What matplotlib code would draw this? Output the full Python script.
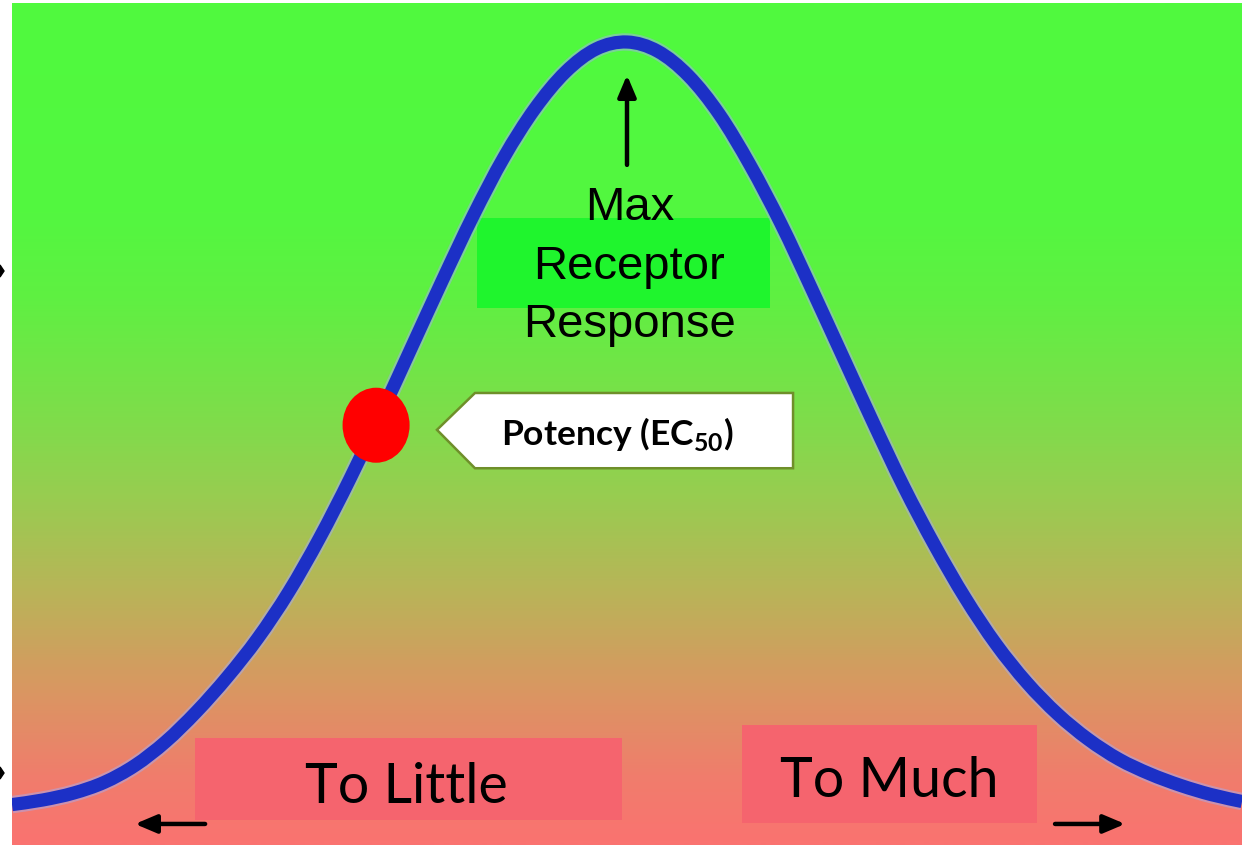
import matplotlib

matplotlib.use("Agg")

import matplotlib.pyplot as plt
import numpy as np
from matplotlib.colors import LinearSegmentedColormap
from matplotlib.patches import Ellipse, PathPatch, Polygon, Rectangle
from matplotlib.path import Path

plt.rcParams["mathtext.fontset"] = "custom"
plt.rcParams["mathtext.rm"] = "Lato"
plt.rcParams["mathtext.bf"] = "Lato:bold"

# dose axis (0 = far left, 100 = far right) and relative receptor response (%)
DOSE = [
    0.0, 2.5, 5.0, 7.5, 10.0, 12.5, 15.0, 17.5, 20.0, 22.5,
    25.0, 27.5, 30.0, 32.5, 35.0, 37.5, 40.0, 42.5, 45.0, 47.5,
    50.0, 52.5, 55.0, 57.5, 60.0, 62.5, 65.0, 67.5, 70.0, 72.5,
    75.0, 77.5, 80.0, 82.5, 85.0, 87.5, 90.0, 92.5, 95.0, 97.5,
    100.0,
]
RESPONSE = [
    0.7, 1.3, 2.2, 3.6, 5.8, 8.9, 12.8, 17.3, 22.4, 28.4,
    35.4, 43.2, 51.6, 60.3, 69.0, 77.4, 85.0, 91.3, 96.1, 99.1,
    100.0, 98.8, 95.6, 90.6, 84.0, 76.4, 67.9, 59.2, 50.5, 42.1,
    34.5, 27.6, 21.6, 16.6, 12.5, 9.2, 6.6, 4.7, 3.2, 2.0,
    1.1,
]

EC50_DOSE = 29.6
EC50_RESPONSE = 50.1
MAX_DOSE = 50.0

MAX_LABEL = ["Max", "Receptor", "Response"]
POTENCY_LABEL = "Potency (EC$_{\\mathbf{50}}$)"
LOW_LABEL = "To Little"
HIGH_LABEL = "To Much"

# background gradient, top -> bottom
BG_STOPS = [
    (0.00, "#50fa3e"),
    (0.25, "#53f740"),
    (0.35, "#5ff042"),
    (0.50, "#80dc4b"),
    (0.58, "#96ce50"),
    (0.70, "#b9b458"),
    (0.82, "#da9662"),
    (0.92, "#f07d6c"),
    (1.00, "#fa7370"),
]

CURVE_COLOR = "#1c30c6"
BOX_RED = "#f5646e"
BOX_GREEN = "#1ff52d"


def smooth_path(xs, ys):
    """Catmull-Rom spline through the points, as cubic bezier segments."""
    pts = np.column_stack([xs, ys])
    padded = np.vstack([pts[0], pts, pts[-1]])
    verts = [pts[0]]
    codes = [Path.MOVETO]
    for i in range(1, len(padded) - 2):
        p0, p1, p2, p3 = padded[i - 1], padded[i], padded[i + 1], padded[i + 2]
        verts += [p1 + (p2 - p0) / 6, p2 - (p3 - p1) / 6, p2]
        codes += [Path.CURVE4] * 3
    return Path(verts, codes)


def draw_background(ax, xlim, ylim):
    cmap = LinearSegmentedColormap.from_list("bg", BG_STOPS)
    grad = np.linspace(0, 1, 600).reshape(-1, 1)
    ax.imshow(grad, cmap=cmap, aspect="auto", origin="upper",
              extent=[xlim[0], xlim[1], ylim[0], ylim[1]], zorder=0,
              interpolation="bilinear")


def arrow(ax, start, end):
    ax.annotate("", xy=end, xytext=start,
                arrowprops=dict(arrowstyle="-|>,head_length=1.3,head_width=0.55",
                                lw=3.2, color="black", shrinkA=0, shrinkB=0),
                zorder=6)


def main():
    fig = plt.figure(figsize=(12.42, 8.49), dpi=100)
    ax = fig.add_axes([12 / 1242, 4 / 849, 1230 / 1242, 842 / 849])
    xlim = (0, 100)
    ylim = (-4.56, 105.08)
    draw_background(ax, xlim, ylim)

    # green label box behind "Max Receptor Response"
    ax.add_patch(Rectangle((37.8, 65.4), 23.8, 11.7, color=BOX_GREEN, lw=0, zorder=1))

    # bell-shaped response curve
    path = smooth_path(DOSE, RESPONSE)
    ax.add_patch(PathPatch(path, fill=False, edgecolor="#a5acf0", lw=12.5,
                           alpha=0.5, capstyle="butt", zorder=2))
    ax.add_patch(PathPatch(path, fill=False, edgecolor=CURVE_COLOR, lw=9.5,
                           capstyle="butt", joinstyle="round", zorder=3))

    # EC50 point
    ax.add_patch(Ellipse((EC50_DOSE, EC50_RESPONSE), 5.45, 9.77,
                         color="#ff0000", lw=0, zorder=4))

    # potency callout
    callout = Polygon([(34.55, 49.5), (37.64, 54.3), (63.5, 54.3),
                       (63.5, 44.5), (37.64, 44.5)], closed=True,
                      facecolor="white", edgecolor="#6f8f2a", lw=1.8, zorder=4)
    ax.add_patch(callout)
    ax.text(49.2, 47.5, POTENCY_LABEL, ha="center", va="baseline",
            fontsize=25.5, fontweight="bold", family="Lato", zorder=5)

    # max response label with arrow to the peak
    for label, y in zip(MAX_LABEL, [76.8, 69.1, 61.6]):
        ax.text(50.2, y, label, ha="center", va="baseline", fontsize=34,
                family="Liberation Sans", zorder=5)
    arrow(ax, (MAX_DOSE, 84.0), (MAX_DOSE, 95.7))

    # dose range boxes
    ax.add_patch(Rectangle((14.88, -1.30), 34.71, 10.68, color=BOX_RED, lw=0, zorder=4))
    ax.text(32.1, 0.91, LOW_LABEL, ha="center", va="baseline", fontsize=40,
            family="Lato", zorder=5)
    ax.add_patch(Rectangle((59.35, -1.69), 23.98, 12.76, color=BOX_RED, lw=0, zorder=4))
    ax.text(71.3, 1.69, HIGH_LABEL, ha="center", va="baseline", fontsize=40,
            family="Lato", zorder=5)

    arrow(ax, (15.7, -1.82), (10.0, -1.82))
    arrow(ax, (84.8, -1.82), (90.5, -1.82))

    ax.set_xlim(*xlim)
    ax.set_ylim(*ylim)
    ax.axis("off")

    # cut-off marks in the left margin
    for top in (265, 767):
        pts = [(0, 849 - top), (4, 849 - top - 6), (0, 849 - top - 12)]
        fig.patches.append(Polygon([(x / 1242, y / 849) for x, y in pts], closed=True,
                                   transform=fig.transFigure, color="black"))

    fig.savefig("out.png", dpi=100)
    plt.close(fig)


if __name__ == "__main__":
    main()
